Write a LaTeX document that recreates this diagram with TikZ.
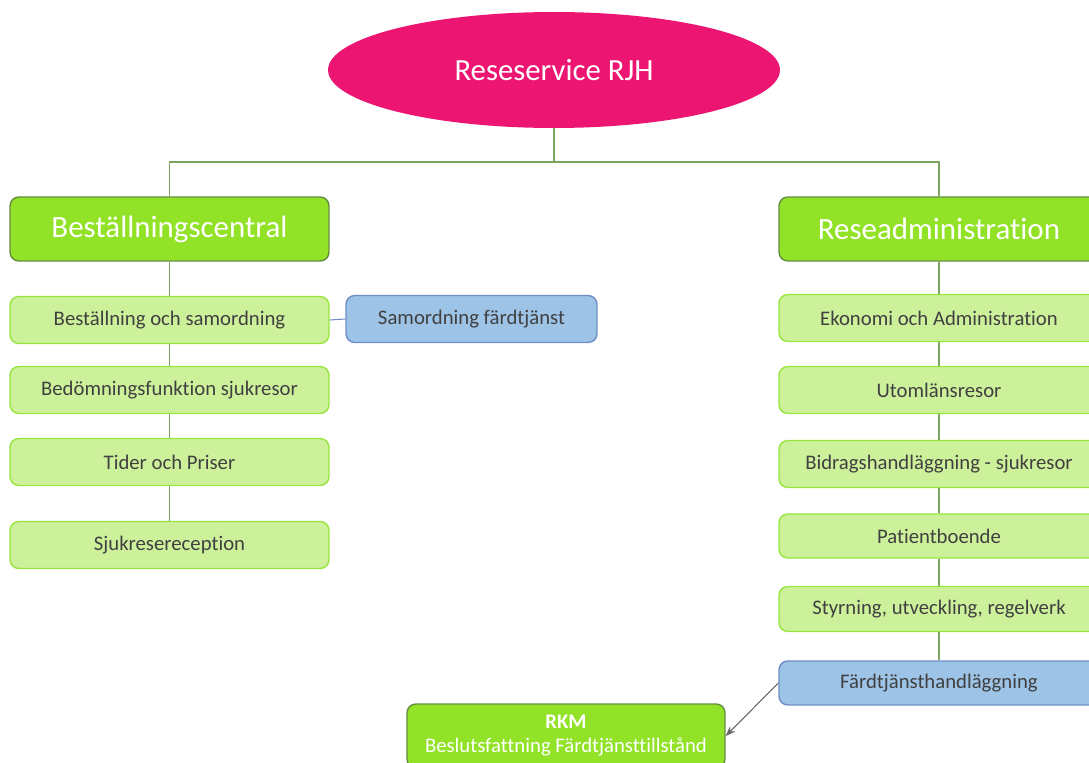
\documentclass[tikz,border=0pt]{standalone}
\usepackage{fontspec}
\setmainfont{Carlito}[Ligatures=NoCommon]
\usepackage{tikz}
\usetikzlibrary{arrows.meta, positioning, shapes.geometric}
\definecolor{rjhPink}{RGB}{236,22,114}
\definecolor{headGreen}{RGB}{146,226,40}
\definecolor{headBorder}{RGB}{100,140,60}
\definecolor{subGreen}{RGB}{205,241,155}
\definecolor{subBorder}{RGB}{150,228,60}
\definecolor{blueFill}{RGB}{157,195,230}
\definecolor{blueBorder}{RGB}{110,140,200}
\definecolor{lineGreen}{RGB}{125,165,95}
\definecolor{txtGray}{RGB}{64,64,64}

\begin{document}
\begin{tikzpicture}[x=0.02cm, y=-0.02cm, >=Stealth,
    head/.style={rectangle, rounded corners=5pt, fill=headGreen, draw=headBorder, line width=0.8pt,
        minimum width=6.38cm, minimum height=1.28cm, text=white, font=\fontsize{17.6}{21}\selectfont},
    sub/.style={rectangle, rounded corners=5pt, fill=subGreen, draw=subBorder, line width=0.8pt,
        minimum width=6.38cm, minimum height=0.94cm, text=txtGray, font=\fontsize{11.8}{14}\selectfont},
    bluebox/.style={sub, fill=blueFill, draw=blueBorder},
    conn/.style={draw=lineGreen, line width=0.6pt}]
    \useasboundingbox (0,0) rectangle (1089,763);
    \clip (0,0) rectangle (1089,763);

    % toppen
    \node[ellipse, fill=rjhPink, minimum width=9.04cm, minimum height=2.32cm, text=white,
        font=\fontsize{17.5}{21}\selectfont] (rjh) at (554,70) {Reseservice RJH};

    % rubriker
    \node[head] (bc) at (169.5,229) {Beställningscentral};
    \node[head, minimum width=6.4cm] (ra) at (939,229) {Reseadministration};

    % vänster gren
    \node[sub] (bos) at (169.5,320) {Beställning och samordning};
    \node[sub] (bed) at (169.5,390) {Bedömningsfunktion sjukresor};
    \node[sub] (tid) at (169.5,462) {Tider och Priser};
    \node[sub] (sjr) at (169.5,545) {Sjukresereception};
    \node[bluebox, minimum width=5.02cm] (samf) at (471.5,319) {Samordning färdtjänst};

    % höger gren
    \node[sub, minimum width=6.4cm] (eko) at (939,318) {Ekonomi och Administration};
    \node[sub, minimum width=6.4cm] (uto) at (939,390) {Utomlänsresor};
    \node[sub, minimum width=6.4cm] (bid) at (939,464) {Bidragshandläggning - sjukresor};
    \node[sub, minimum width=6.4cm, minimum height=0.88cm] (pat) at (939,536) {Patientboende};
    \node[sub, minimum width=6.4cm, minimum height=0.9cm] (sty) at (939,609) {Styrning, utveckling, regelverk};
    \node[bluebox, minimum width=6.4cm, minimum height=0.88cm] (fth) at (939,683) {Färdtjänsthandläggning};

    % RKM
    \node[head, minimum width=6.36cm, align=center, font=\fontsize{11.8}{13.6}\selectfont] (rkm) at (566,736)
        {\textbf{RKM}\\Beslutsfattning Färdtjänsttillstånd};

    % linjer
    \coordinate (split) at (554,162);
    \draw[conn] (rjh.south) -- (split) -| (bc.north);
    \draw[conn] (split) -| (ra.north);
    \draw[conn] (bc.south) -- (bos.north);
    \draw[conn] (bos.south) -- (bed.north);
    \draw[conn] (bed.south) -- (tid.north);
    \draw[conn] (tid.south) -- (sjr.north);
    \draw[conn, draw=blueBorder] (bos.east) -- (samf.west);
    \draw[conn] (ra.south) -- (eko.north);
    \draw[conn] (eko.south) -- (uto.north);
    \draw[conn] (uto.south) -- (bid.north);
    \draw[conn] (bid.south) -- (pat.north);
    \draw[conn] (pat.south) -- (sty.north);
    \draw[conn] (sty.south) -- (fth.north);
    \draw[->, draw=gray!80!black, line width=0.6pt] (fth.west) -- (rkm.east);
\end{tikzpicture}
\end{document}
